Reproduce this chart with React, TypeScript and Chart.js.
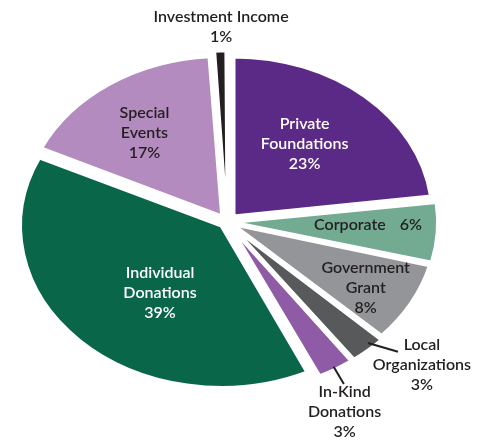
import React, { useEffect, useRef } from "react";
import { Chart, registerables } from "chart.js";

Chart.register(...registerables);

// ---- data ----
const categories = [
  "Private Foundations",
  "Corporate",
  "Government Grant",
  "Local Organizations",
  "In-Kind Donations",
  "Individual Donations",
  "Special Events",
  "Investment Income",
];
const shares = [23, 6, 8, 3, 3, 39, 17, 1];
const nameLines = [
  ["Private", "Foundations"],
  ["Corporate"],
  ["Government", "Grant"],
  ["Local", "Organizations"],
  ["In-Kind", "Donations"],
  ["Individual", "Donations"],
  ["Special", "Events"],
  ["Investment Income"],
];

// ---- styles ----
const colors = ["#5b2a86", "#72aa92", "#949598", "#58595b", "#8f5ba7", "#0a6648", "#b38bbf", "#231f20"];
const textColors = ["#ffffff", "#231f20", "#231f20", "#231f20", "#231f20", "#ffffff", "#231f20", "#231f20"];
const offsets = [32, 24, 24, 26, 26, 24, 28, 24];
const borderWidths = [3, 3, 3, 3, 3, 3, 3, 2];
const STRETCH_X = 1.25;
const RADIUS = 159;
// label placement: angle shift from slice middle (deg), fraction of radius, inline name+value
const placement = [
  { a: -3.1, f: 0.63, inline: false },
  { a: -2.1, f: 0.71, inline: true },
  { a: 1.7, f: 0.81, inline: false },
  { a: -6.1, f: 1.33, inline: false },
  { a: 4.3, f: 1.335, inline: false },
  { a: -8, f: 0.56, inline: false },
  { a: -2.2, f: 0.7, inline: false },
  { a: 0.4, f: 1.225, inline: false },
];
// leader lines: [shiftStart, fracStart, shiftEnd, fracEnd]
const leaders: Record<number, number[]> = {
  3: [-1.6, 1.04, -5.1, 1.186],
  4: [0.1, 1.057, 0.6, 1.176],
};
const FONT = '600 16px "Lato"';
const LINE_H = 20;

function polar(arc: any, shiftDeg: number, frac: number) {
  const mid = (arc.startAngle + arc.endAngle) / 2 + (shiftDeg * Math.PI) / 180;
  const r = arc.outerRadius * frac;
  return { x: arc.x + Math.cos(mid) * r * STRETCH_X, y: arc.y + Math.sin(mid) * r };
}

const ellipsePlugin = {
  id: "ellipseAndLabels",
  beforeDatasetsDraw(chart: any) {
    const arc = chart.getDatasetMeta(0).data[0];
    const ctx = chart.ctx;
    ctx.save();
    ctx.translate(arc.x, arc.y);
    ctx.scale(STRETCH_X, 1);
    ctx.translate(-arc.x, -arc.y);
  },
  afterDatasetsDraw(chart: any) {
    const ctx = chart.ctx;
    ctx.restore();
    const arcs = chart.getDatasetMeta(0).data;
    ctx.save();
    ctx.font = FONT;
    ctx.textBaseline = "middle";
    Object.keys(leaders).forEach((k) => {
      const i = Number(k);
      const [s0, f0, s1, f1] = leaders[i];
      const p0 = polar(arcs[i], s0, f0);
      const p1 = polar(arcs[i], s1, f1);
      ctx.beginPath();
      ctx.moveTo(p0.x, p0.y);
      ctx.lineTo(p1.x, p1.y);
      ctx.strokeStyle = "#231f20";
      ctx.lineWidth = 2;
      ctx.stroke();
    });
    arcs.forEach((arc: any, i: number) => {
      const pl = placement[i];
      const c = polar(arc, pl.a, pl.f);
      ctx.fillStyle = textColors[i];
      const pct = `${shares[i]}%`;
      if (pl.inline) {
        const name = nameLines[i][0];
        const gap = 14;
        const wn = ctx.measureText(name).width;
        const wp = ctx.measureText(pct).width;
        const x0 = c.x - (wn + gap + wp) / 2;
        ctx.textAlign = "left";
        ctx.fillText(name, x0, c.y);
        ctx.fillText(pct, x0 + wn + gap, c.y);
        return;
      }
      const lines = [...nameLines[i], pct];
      ctx.textAlign = "center";
      lines.forEach((t, j) => {
        const y = c.y + (j - (lines.length - 1) / 2) * LINE_H;
        ctx.fillText(t, c.x, y);
      });
    });
    ctx.restore();
  },
};

export default function App() {
  const ref = useRef<HTMLCanvasElement>(null);
  useEffect(() => {
    if (!ref.current) return;
    const chart = new Chart(ref.current, {
      type: "pie",
      data: {
        labels: categories,
        datasets: [
          {
            data: shares,
            backgroundColor: colors,
            borderColor: "#ffffff",
            borderWidth: borderWidths,
            offset: offsets,
            radius: RADIUS,
          } as any,
        ],
      },
      options: {
        responsive: false,
        maintainAspectRatio: false,
        animation: false,
        events: [],
        layout: { padding: { left: 0, right: 43, top: 0, bottom: 0 } },
        plugins: { legend: { display: false }, tooltip: { enabled: false } },
      },
      plugins: [ellipsePlugin],
    });
    return () => chart.destroy();
  }, []);
  return (
    <div style={{ position: "absolute", left: 0, top: 0, width: 497, height: 444, background: "#fff" }}>
      <canvas ref={ref} width={497} height={444} style={{ width: 497, height: 444, display: "block" }} />
    </div>
  );
}
